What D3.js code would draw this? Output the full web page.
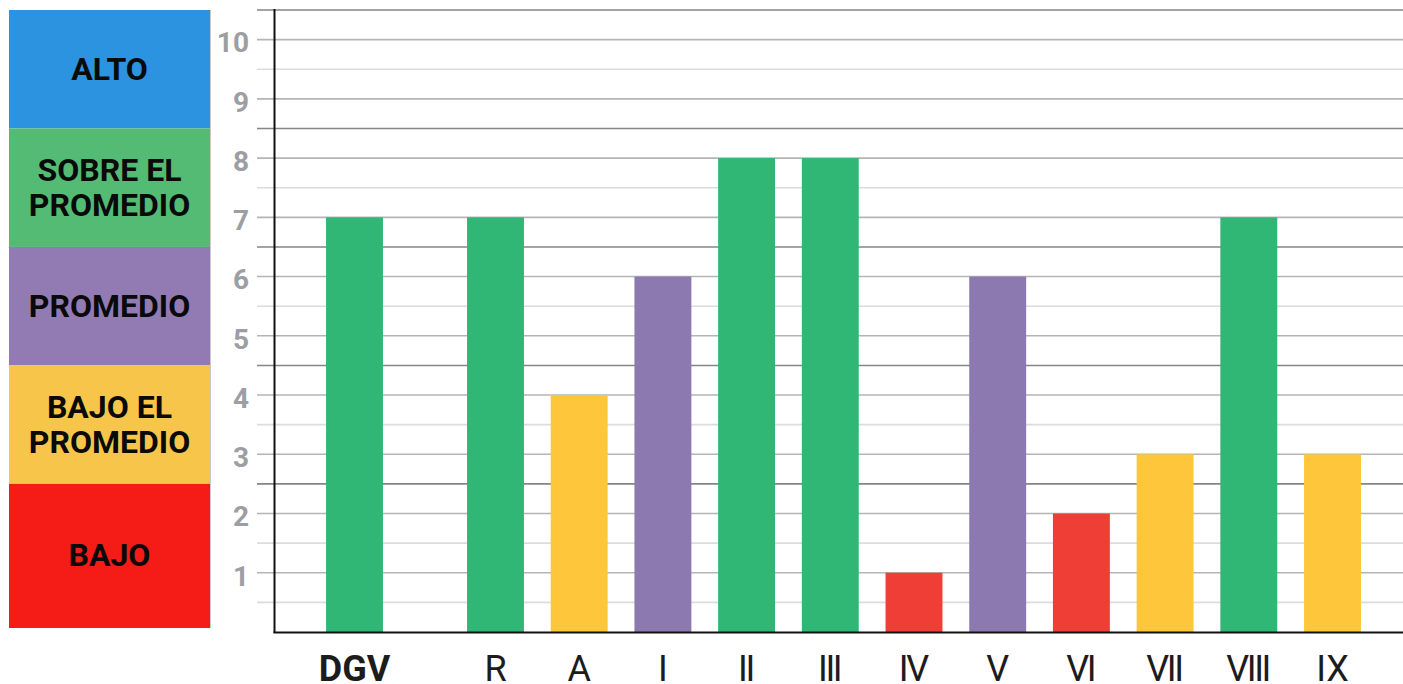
<!DOCTYPE html>
<html>
<head>
<meta charset="utf-8">
<script src="https://cdn.jsdelivr.net/npm/d3@7"></script>
<style>
  html, body { margin: 0; padding: 0; background: #fff; }
  svg { display: block; font-family: Roboto, "Noto Sans", sans-serif; }
</style>
</head>
<body>
<svg id="chart" width="1403" height="684"></svg>
<script>
// Overall result and the eleven regions
const summaryCategory = ["DGV"];
const regionCategories = ["R", "A", "I", "II", "III", "IV", "V", "VI", "VII", "VIII", "IX"];
const summaryValues = [7];
const regionValues = [7, 4, 6, 8, 8, 1, 6, 2, 3, 7, 3];

// Performance bands (upper and lower score limits)
const bandLabels = [["ALTO"], ["SOBRE EL", "PROMEDIO"], ["PROMEDIO"], ["BAJO EL", "PROMEDIO"], ["BAJO"]];
const bandUpper = [10.5, 8.5, 6.5, 4.5, 2.5];
const bandLower = [8.5, 6.5, 4.5, 2.5, 0];
const bandColors = ["#2c93e0", "#53bb73", "#927bb3", "#f7c549", "#f51b17"];
const barColors = ["#2c93e0", "#31b775", "#8b79b0", "#fdc63b", "#ef3e36"];

const yTicks = [1, 2, 3, 4, 5, 6, 7, 8, 9, 10];
const gridValues = d3.range(0.5, 10.51, 0.5);

const svg = d3.select("#chart");
const W = 1403;

const y = d3.scaleLinear().domain([0, 10.5]).range([632, 10]);

// Regions share one band scale; the overall bar sits to the left with the same step
const step = 83.7;
const xRegion = d3.scaleBand().domain(regionCategories)
  .range([495.5 - step / 2, 1332.5 + step / 2])
  .paddingInner(0.32).paddingOuter(0.16);
const xSummary = d3.scaleBand().domain(summaryCategory)
  .range([354.5 - step / 2, 354.5 + step / 2])
  .paddingInner(0.32).paddingOuter(0.16);

const axisX = 274.5;

function bandIndex(v) {
  return bandUpper.findIndex((u, i) => v <= u && v > bandLower[i]);
}

// Left legend of performance bands
const legend = svg.append("g");
bandLabels.forEach((lines, i) => {
  const top = y(bandUpper[i]);
  const bottom = i === bandLabels.length - 1 ? y(bandLower[i]) - 4 : y(bandLower[i]);
  legend.append("rect")
    .attr("x", 9).attr("y", top).attr("width", 201).attr("height", bottom - top)
    .attr("fill", bandColors[i]);
  const cy = (top + bottom) / 2 - 1;
  const lh = 35;
  lines.forEach((t, j) => {
    legend.append("text")
      .attr("x", 109.5)
      .attr("y", cy + (j - (lines.length - 1) / 2) * lh)
      .attr("dy", "0.36em")
      .attr("text-anchor", "middle")
      .attr("font-size", 32)
      .attr("font-weight", 700)
      .attr("fill", "#0a0a0a")
      .text(t);
  });
});
legend.append("line")
  .attr("x1", 210.5).attr("x2", 210.5)
  .attr("y1", y(10.5)).attr("y2", y(0) - 4)
  .attr("stroke", "#c8c8c8").attr("stroke-width", 1);

// Horizontal grid lines every half point
const grid = svg.append("g");
grid.selectAll("line").data(gridValues).join("line")
  .attr("x1", 257).attr("x2", W)
  .attr("y1", d => y(d)).attr("y2", d => y(d))
  .attr("stroke", d => bandUpper.includes(d) ? "#858585" : (Number.isInteger(d) ? "#b5b5b5" : "#dcdcdc"))
  .attr("stroke-width", 1.6);

// Y axis tick labels
const yAxis = d3.axisLeft(y).tickValues(yTicks).tickSize(0).tickPadding(0).tickFormat(d3.format("d"));
const gy = svg.append("g").attr("transform", "translate(249,0)").call(yAxis);
gy.select(".domain").remove();
gy.selectAll("text")
  .attr("font-family", "Roboto, sans-serif")
  .attr("font-size", 28)
  .attr("font-weight", 700)
  .attr("fill", "#9d9ea3")
  .attr("dy", "0.44em");

// Bars
const bars = svg.append("g");
bars.selectAll("rect.summary").data(summaryCategory).join("rect")
  .attr("class", "summary")
  .attr("x", d => xSummary(d)).attr("width", xSummary.bandwidth())
  .attr("y", (d, i) => y(summaryValues[i]))
  .attr("height", (d, i) => y(0) - y(summaryValues[i]))
  .attr("fill", (d, i) => barColors[bandIndex(summaryValues[i])]);
bars.selectAll("rect.region").data(regionCategories).join("rect")
  .attr("class", "region")
  .attr("x", d => xRegion(d)).attr("width", xRegion.bandwidth())
  .attr("y", (d, i) => y(regionValues[i]))
  .attr("height", (d, i) => y(0) - y(regionValues[i]))
  .attr("fill", (d, i) => barColors[bandIndex(regionValues[i])]);

// Axis lines
svg.append("line")
  .attr("x1", axisX).attr("x2", axisX).attr("y1", 9).attr("y2", y(0) + 1)
  .attr("stroke", "#111").attr("stroke-width", 2);
svg.append("line")
  .attr("x1", axisX - 1).attr("x2", W).attr("y1", y(0) + 0.5).attr("y2", y(0) + 0.5)
  .attr("stroke", "#111").attr("stroke-width", 2);

// Category labels
const gxs = svg.append("g").attr("transform", `translate(0,${y(0)})`)
  .call(d3.axisBottom(xSummary).tickSize(0).tickPadding(0));
gxs.select(".domain").remove();
gxs.selectAll("text")
  .attr("font-family", "Roboto, sans-serif")
  .attr("font-size", 36).attr("font-weight", 700).attr("fill", "#1c1c1c")
  .attr("dy", null).attr("y", 49);

// Roman numerals are set tight; the shift re-centres them after the negative tracking
const tight = d => d.length > 1 && d !== "IX";
const gxr = svg.append("g").attr("transform", `translate(0,${y(0)})`)
  .call(d3.axisBottom(xRegion).tickSize(0).tickPadding(0));
gxr.select(".domain").remove();
gxr.selectAll("text")
  .attr("font-family", "Roboto, sans-serif")
  .attr("font-size", 36).attr("font-weight", 400).attr("fill", "#1c1c1c")
  .attr("letter-spacing", d => tight(d) ? -2.4 : 0)
  .attr("dx", d => tight(d) ? -1.2 : 0)
  .attr("dy", null).attr("y", 49);
</script>
</body>
</html>
